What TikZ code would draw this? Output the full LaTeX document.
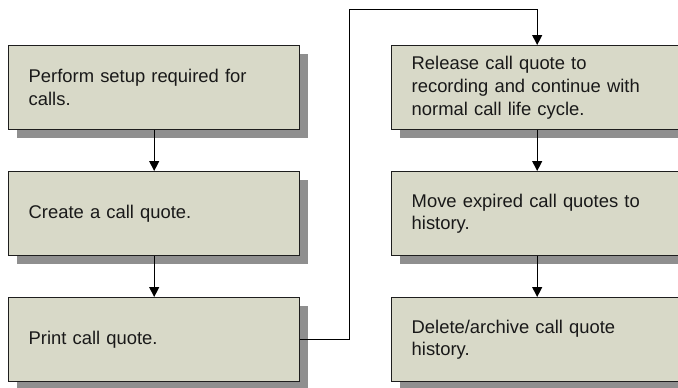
\documentclass[tikz,border=0pt]{standalone}
\usepackage{fontspec}
\setmainfont{Liberation Sans}
\usetikzlibrary{arrows.meta,shadows}
\definecolor{boxfill}{RGB}{216,217,200}
\definecolor{shadowgray}{RGB}{143,143,143}
\definecolor{edgecol}{RGB}{30,30,30}
\begin{document}
\begin{tikzpicture}[x=1pt,y=-1pt,
  stepbox/.style={draw=edgecol, line width=1.4pt, fill=boxfill,
    anchor=north west, rectangle, minimum width=291pt, minimum height=84pt,
    text width=251pt, inner xsep=20pt, inner ysep=0pt, align=left,
    text=black!90, font=\fontsize{18.4}{22.6}\selectfont,
    drop shadow={shadow xshift=8pt, shadow yshift=-8pt, fill=shadowgray, opacity=1}},
  conn/.style={draw=black, line width=1.1pt},
  arr/.style={conn, -{Triangle[width=10pt,length=10pt]}}]
\useasboundingbox (0,0) rectangle (678,388);
\clip (0,0) rectangle (678,388);
\fill[white] (0,0) rectangle (678,388);
\node[stepbox] (b1) at (8,45) {Perform setup required for\\calls.};
\node[stepbox] (b2) at (8,171) {Create a call quote.};
\node[stepbox] (b3) at (8,297) {Print call quote.};
\node[stepbox] (b4) at (391,45) {Release call quote to\\recording and continue with\\normal call life cycle.};
\node[stepbox] (b5) at (391,171) {Move expired call quotes to\\history.};
\node[stepbox] (b6) at (391,297) {Delete/archive call quote\\history.};
\coordinate (t1) at (349.3,9.3);
\draw[arr] (b1.south) -- (b2.north);
\draw[arr] (b2.south) -- (b3.north);
\draw[arr] (b3.east) -| (t1) -| (b4.north);
\draw[arr] (b4.south) -- (b5.north);
\draw[arr] (b5.south) -- (b6.north);
\end{tikzpicture}
\end{document}
